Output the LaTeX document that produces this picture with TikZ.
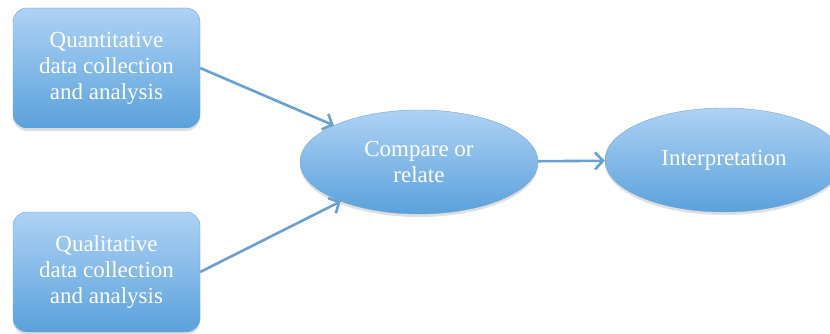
\documentclass[tikz,border=0pt]{standalone}
\usepackage{fontspec}
\setmainfont{Liberation Serif}
\usetikzlibrary{shapes.geometric,shadows,arrows.meta}

\definecolor{paletop}{RGB}{174,210,244}
\definecolor{palebottom}{RGB}{90,161,220}
\definecolor{edgeblue}{RGB}{110,165,213}
\definecolor{arrowblue}{RGB}{104,160,210}

\begin{document}
\begin{tikzpicture}[x=1pt, y=-1pt]
        \tikzstyle{block}=[rectangle,rounded corners=14pt,draw=edgeblue,top color=paletop,bottom color=palebottom,minimum width=187pt,minimum height=120pt,inner sep=2pt,text=white,align=center,font=\fontsize{23}{26}\selectfont,drop shadow={opacity=0.25,shadow xshift=0pt,shadow yshift=-3pt}]
        \tikzstyle{oval}=[ellipse,draw=edgeblue,top color=paletop,bottom color=palebottom,minimum width=238pt,minimum height=104pt,inner sep=0pt,text=white,align=center,font=\fontsize{23}{26}\selectfont,drop shadow={opacity=0.25,shadow xshift=0pt,shadow yshift=-3pt}]
        \tikzstyle{link}=[draw=arrowblue,line width=2.6pt,-{Straight Barb[length=8pt,width=17pt]}]

        \useasboundingbox (0,0) rectangle (830,334);
        \clip (0,0) rectangle (830,334);

        \node[block] (Quan) at (106.5,68)  {Quantitative\\data collection\\and analysis};
        \node[block] (Qual) at (106.5,272) {Qualitative\\data collection\\and analysis};
        \node[oval] (Comp) at (419,162) {Compare or\\relate};
        \node[oval] (Interp) at (724,160) {Interpretation};

        \draw[link] (Quan.east) -- (Comp);
        \draw[link] (Qual.east) -- (Comp);
        \draw[link] (Comp) -- (Interp);
\end{tikzpicture}
\end{document}
